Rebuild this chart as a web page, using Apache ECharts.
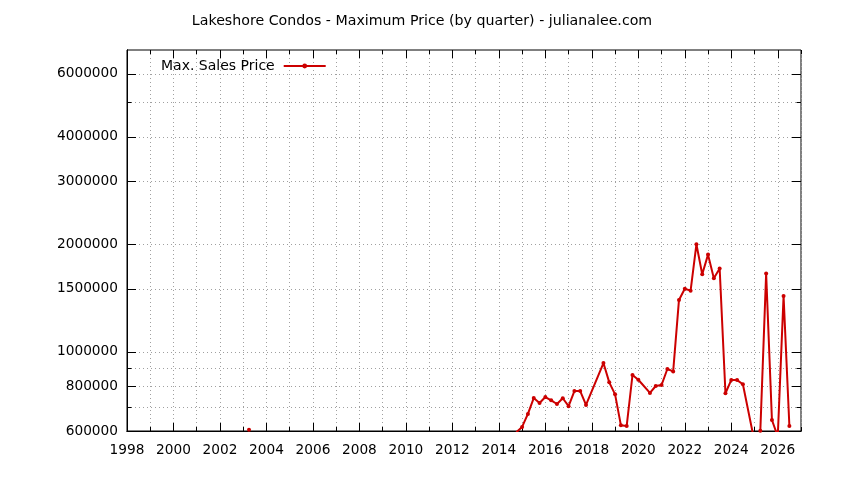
<!DOCTYPE html>
<html lang="en">
<head>
    <meta charset="UTF-8">
    <title>Lakeshore Condos</title>
    <script src="https://cdn.jsdelivr.net/npm/echarts@6/dist/echarts.min.js"></script>
</head>
<style>
    html, body{
        margin: 0;
        padding: 0;
        background-color: #fff;
    }
    #main{
        width: 844px;
        height: 480px;
    }
</style>
<body>
<div id="main"></div>
<script>
    // quarterly max sale price
    var quarters = [2003.25, 2003.5, 2014.75, 2015.0, 2015.25, 2015.5, 2015.75, 2016.0, 2016.25, 2016.5,
        2016.75, 2017.0, 2017.25, 2017.5, 2017.75, 2018.5, 2018.75, 2019.0, 2019.25, 2019.5,
        2019.75, 2020.0, 2020.5, 2020.75, 2021.0, 2021.25, 2021.5, 2021.75, 2022.0, 2022.25,
        2022.5, 2022.75, 2023.0, 2023.25, 2023.5, 2023.75, 2024.0, 2024.25, 2024.5, 2025.0,
        2025.25, 2025.5, 2025.75, 2026.0, 2026.25, 2026.5];
    var prices = [605000, null, 595000, 616000, 670000, 742000, 719000, 747000, 731000, 714000,
        741000, 704000, 776000, 776000, 710000, 930000, 821000, 760000, 623000, 620000,
        861000, 835000, 767000, 802000, 807000, 895000, 881000, 1397000, 1502000, 1483000,
        2000000, 1649000, 1871000, 1606000, 1710000, 765000, 834000, 833000, 811000, 560000,
        601000, 1657000, 644000, 579000, 1433000, 620000];

    var majorYears = [1998, 2000, 2002, 2004, 2006, 2008, 2010, 2012, 2014, 2016, 2018, 2020, 2022, 2024, 2026];
    var allYears = [];
    for (var y = 1998; y <= 2027; y++) allYears.push(y);
    var majorPrices = [600000, 800000, 1000000, 1500000, 2000000, 3000000, 4000000, 6000000];
    var allPrices = [600000, 700000, 800000, 900000, 1000000, 1500000, 2000000, 3000000, 4000000, 5000000, 6000000];

    var FONT = 'DejaVu Sans';
    var xMin = 1998, xMax = 2027, yMin = 600000, yMax = 7000000;
    var dotted = {show: true, lineStyle: {color: '#a0a0a0', width: 1, type: [1, 3]}};

    var seriesData = [];
    for (var i = 0; i < quarters.length; i++) {
        seriesData.push([quarters[i], prices[i]]);
    }

    function xAx(pos, ticks, len, labels, grid) {
        return {
            type: 'value', position: pos, min: xMin, max: xMax,
            axisLine: {show: pos === 'bottom', lineStyle: {color: '#000', width: 1}},
            axisTick: {show: true, inside: true, length: len, customValues: ticks,
                lineStyle: {color: '#000', width: 1}},
            axisLabel: labels ? {show: true, customValues: majorYears, color: '#000',
                fontFamily: FONT, fontSize: 13.7, margin: 12,
                formatter: function (v) { return String(v); }} : {show: false},
            splitLine: grid ? dotted : {show: false}
        };
    }
    function yAx(pos, ticks, len, labels, grid) {
        return {
            type: 'log', logBase: 10, position: pos, min: yMin, max: yMax,
            axisLine: {show: pos === 'left', lineStyle: {color: '#000', width: 1}},
            axisTick: {show: true, inside: true, length: len, customValues: ticks,
                lineStyle: {color: '#000', width: 1}},
            axisLabel: labels ? {show: true, customValues: majorPrices, color: '#000',
                fontFamily: FONT, fontSize: 13.7, margin: 9,
                formatter: function (v) { return String(Math.round(v)); }} : {show: false},
            splitLine: grid ? dotted : {show: false}
        };
    }

    var chart = echarts.init(document.getElementById('main'));
    var option = {
        animation: false,
        backgroundColor: '#fff',
        title: {
            text: 'Lakeshore Condos - Maximum Price (by quarter) - julianalee.com',
            left: 'center',
            top: 9,
            textStyle: {fontFamily: FONT, fontSize: 14.2, fontWeight: 'normal', color: '#000'}
        },
        legend: {
            left: 156,
            top: 54,
            align: 'right',
            itemWidth: 42,
            itemHeight: 6,
            textStyle: {fontFamily: FONT, fontSize: 14, color: '#000', padding: [0, 4, 0, 0]},
            data: ['Max. Sales Price']
        },
        grid: {
            left: 127, right: 43, top: 50, bottom: 49,
            show: true, borderColor: '#000', borderWidth: 1,
            containLabel: false
        },
        xAxis: [
            xAx('bottom', majorYears, 8, true, false),
            xAx('bottom', allYears, 4, false, true),
            xAx('top', majorYears, 8, false, false),
            xAx('top', allYears, 4, false, false)
        ],
        yAxis: [
            yAx('left', majorPrices, 9, true, false),
            yAx('left', allPrices, 4.5, false, true),
            yAx('right', majorPrices, 9, false, false),
            yAx('right', allPrices, 4.5, false, false)
        ],
        series: [{
            name: 'Max. Sales Price',
            type: 'line',
            xAxisIndex: 0,
            yAxisIndex: 0,
            data: seriesData,
            symbol: 'circle',
            symbolSize: 4,
            showSymbol: true,
            clip: true,
            connectNulls: false,
            lineStyle: {color: '#cc0000', width: 2},
            itemStyle: {color: '#cc0000'}
        }]
    };
    chart.setOption(option);
</script>
</body>
</html>
